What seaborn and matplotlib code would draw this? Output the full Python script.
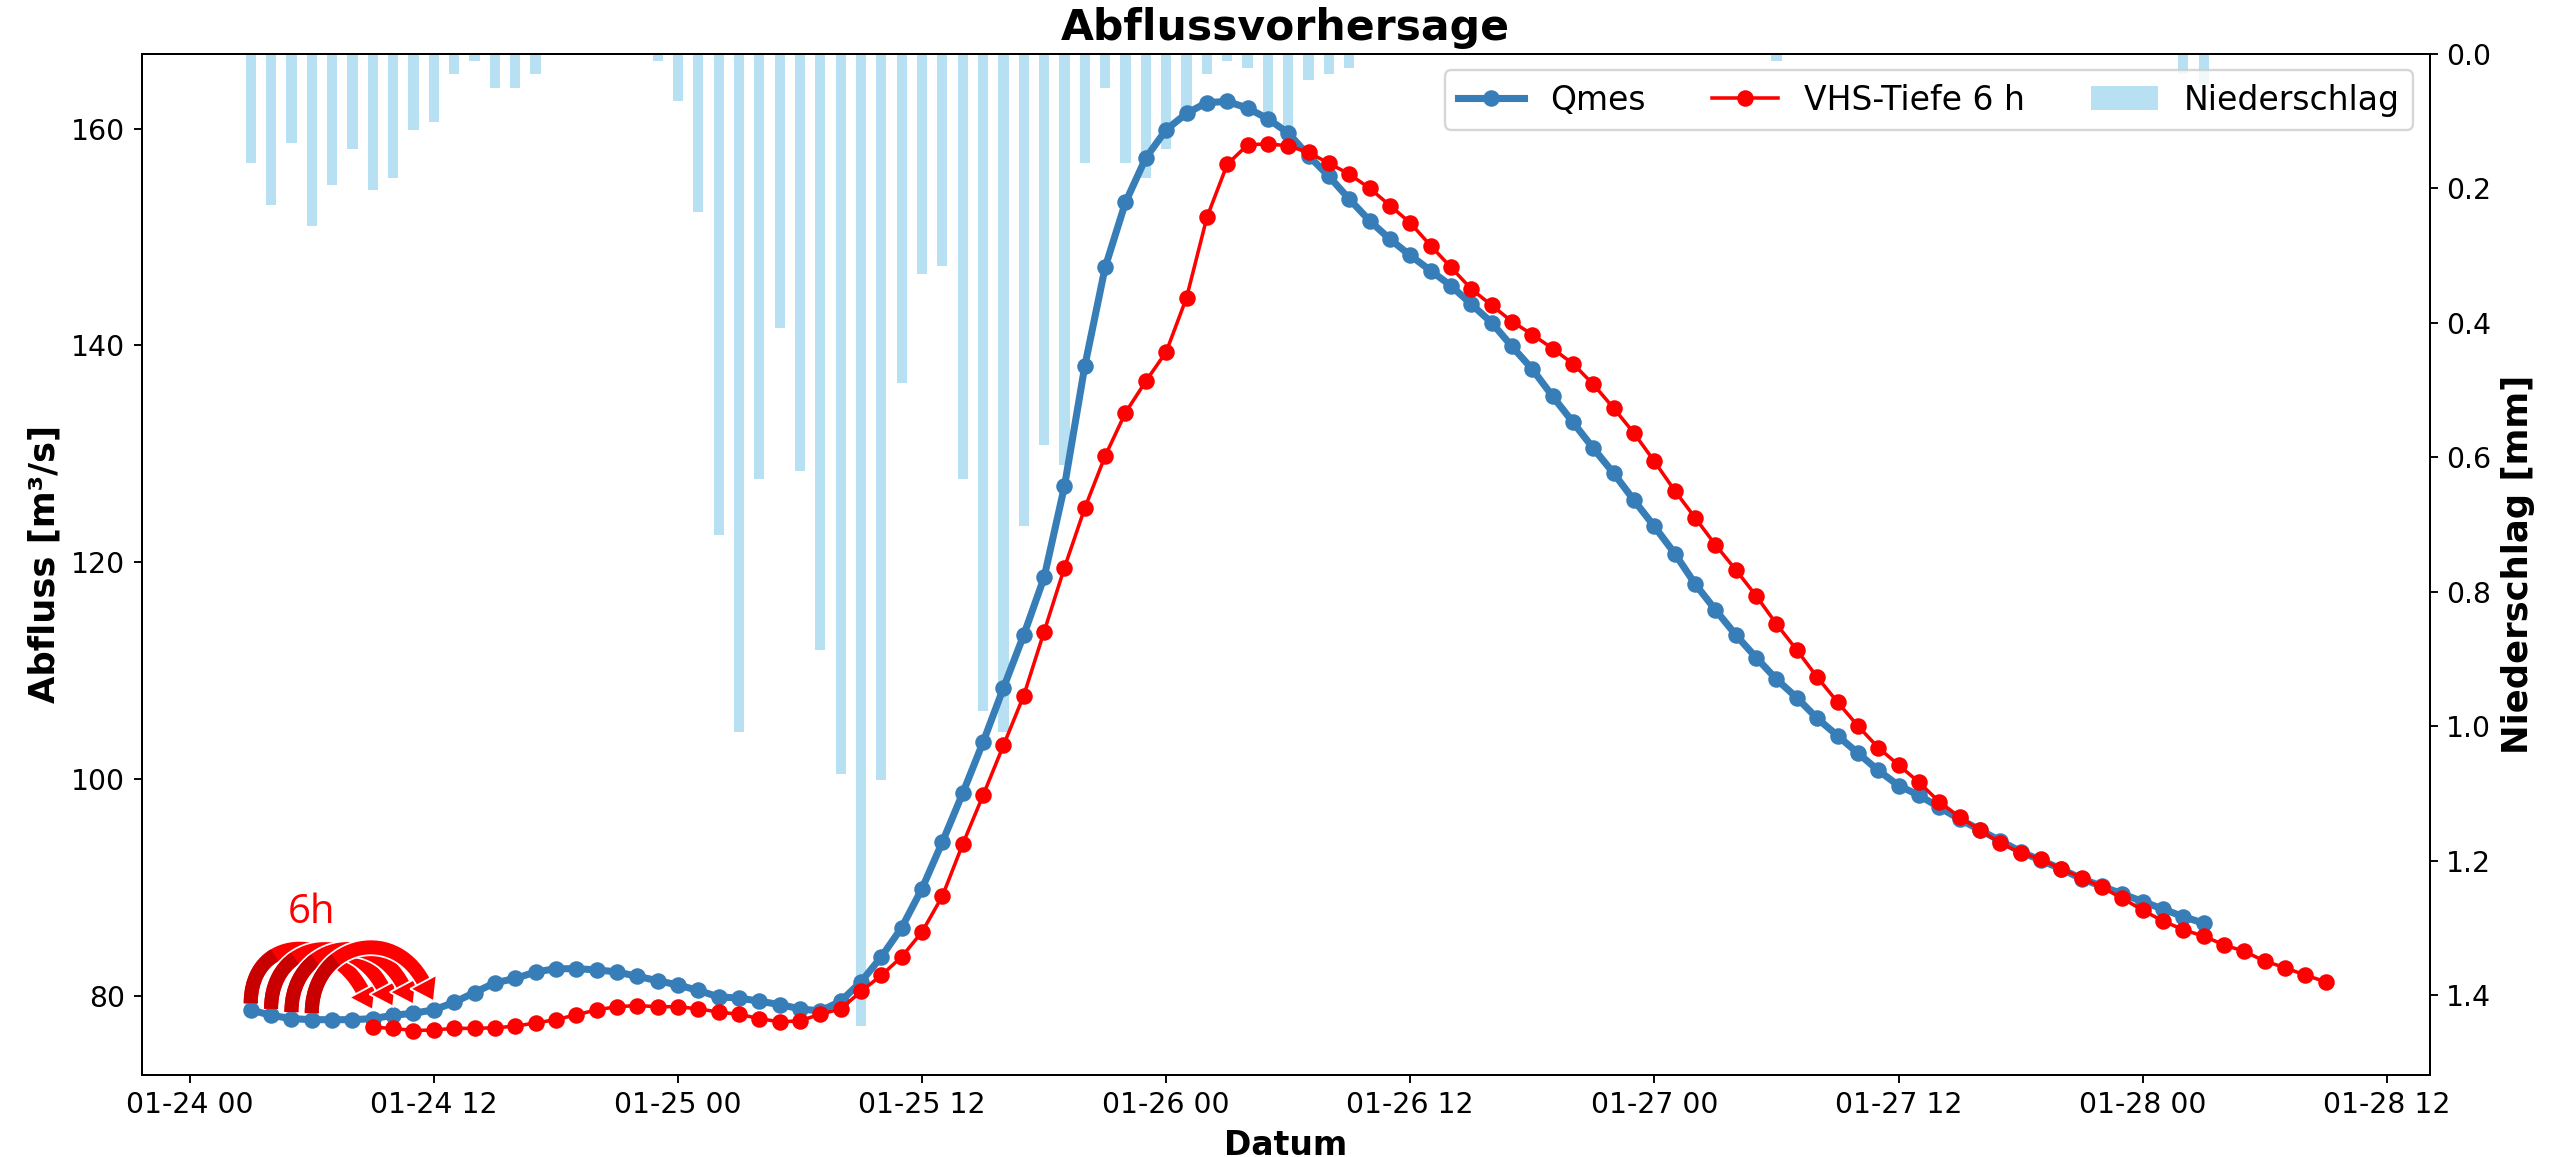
import numpy as np
import pandas as pd
import matplotlib
matplotlib.use("Agg")
import matplotlib.pyplot as plt
import matplotlib.dates as mdates
import matplotlib.patheffects as pe
from matplotlib.path import Path
from matplotlib.patches import PathPatch, Polygon
import seaborn as sns

# Daten (stündlich), Start 24.01. 03:00
start_q = pd.Timestamp("2021-01-24 03:00")
qmes = [78.7, 78.2, 77.9, 77.8, 77.8, 77.8, 77.9, 78.2, 78.4, 78.7,
        79.4, 80.3, 81.2, 81.6, 82.2, 82.5, 82.5, 82.4, 82.2, 81.8,
        81.4, 81.0, 80.5, 79.9, 79.8, 79.5, 79.2, 78.8, 78.6, 79.5,
        81.3, 83.6, 86.3, 89.9, 94.2, 98.7, 103.4, 108.4, 113.3, 118.6,
        127.0, 138.1, 147.2, 153.2, 157.3, 159.9, 161.4, 162.4, 162.5, 161.9,
        160.9, 159.6, 157.5, 155.6, 153.5, 151.5, 149.8, 148.3, 146.9, 145.5,
        143.8, 142.1, 139.9, 137.8, 135.3, 132.9, 130.5, 128.2, 125.7, 123.3,
        120.8, 118.0, 115.6, 113.3, 111.2, 109.2, 107.5, 105.6, 104.0, 102.4,
        100.8, 99.4, 98.5, 97.4, 96.3, 95.3, 94.3, 93.3, 92.5, 91.7,
        90.8, 90.1, 89.4, 88.7, 88.0, 87.3, 86.7]

# Vorhersage mit 6 h Vorlauf, Start 24.01. 09:00
start_v = pd.Timestamp("2021-01-24 09:00")
vhs = [77.1, 77.0, 76.8, 76.85, 77.0, 77.0, 77.05, 77.2, 77.5, 77.8,
       78.25, 78.7, 79.0, 79.1, 79.0, 79.0, 78.8, 78.5, 78.3, 77.9,
       77.6, 77.7, 78.3, 78.8, 80.4, 81.9, 83.6, 85.9, 89.2, 94.0,
       98.5, 103.1, 107.7, 113.6, 119.5, 125.0, 129.8, 133.8, 136.7, 139.4,
       144.4, 151.8, 156.7, 158.5, 158.6, 158.4, 157.8, 156.8, 155.8, 154.5,
       152.9, 151.3, 149.2, 147.2, 145.2, 143.7, 142.2, 141.0, 139.7, 138.3,
       136.4, 134.2, 131.9, 129.3, 126.6, 124.1, 121.6, 119.3, 116.9, 114.3,
       111.9, 109.4, 107.1, 104.9, 102.9, 101.3, 99.7, 97.9, 96.5, 95.3,
       94.1, 93.2, 92.6, 91.7, 90.9, 90.0, 89.0, 87.9, 86.9, 86.1,
       85.5, 84.7, 84.1, 83.2, 82.6, 81.9, 81.3]

# Niederschlag [mm], gleiche Zeitachse wie Qmes
niederschlag = [0.163, 0.225, 0.133, 0.256, 0.195, 0.142, 0.203, 0.185, 0.113, 0.102,
                0.030, 0.011, 0.051, 0.051, 0.030, 0.0, 0.0, 0.0, 0.0, 0.0,
                0.011, 0.070, 0.235, 0.715, 1.009, 0.632, 0.408, 0.621, 0.886, 1.071,
                1.446, 1.080, 0.489, 0.328, 0.315, 0.632, 0.977, 1.009, 0.702, 0.581,
                0.612, 0.163, 0.051, 0.163, 0.184, 0.141, 0.096, 0.030, 0.011, 0.021,
                0.090, 0.113, 0.039, 0.030, 0.021, 0.0, 0.0, 0.0, 0.0, 0.0,
                0.0, 0.0, 0.0, 0.0, 0.0, 0.0, 0.0, 0.0, 0.0, 0.0,
                0.0, 0.0, 0.0, 0.0, 0.0, 0.011, 0.0, 0.0, 0.0, 0.0,
                0.0, 0.0, 0.0, 0.0, 0.0, 0.0, 0.0, 0.0, 0.0, 0.0,
                0.0, 0.0, 0.0, 0.0, 0.0, 0.030, 0.045]

vorlauf = 6  # Stunden
n_pfeile = 4

t_q = pd.date_range(start_q, periods=len(qmes), freq="h")
t_v = pd.date_range(start_v, periods=len(vhs), freq="h")

blau = "#377eb8"
DPI = 170

fig = plt.figure(figsize=(2552 / DPI, 1157 / DPI), dpi=DPI)
ax = fig.add_subplot(111)
fig.subplots_adjust(left=0.0555, right=0.9521, bottom=0.0709, top=0.9535)
ax2 = ax.twinx()

# Niederschlag als Balken von oben
ax2.bar(t_q, niederschlag, width=0.5 / 24, color="skyblue", alpha=0.6, label="Niederschlag")
ax2.invert_yaxis()
ax2.set_ylabel("Niederschlag [mm]", fontsize=15, fontweight="bold")
ax2.tick_params(labelsize=12)

# Linien über den Balken
ax.set_zorder(ax2.get_zorder() + 1)
ax.patch.set_visible(False)

sns.lineplot(x=t_q, y=qmes, ax=ax, color=blau, linewidth=3, marker="o", markersize=7,
             markeredgecolor=blau, markeredgewidth=0, label="Qmes")
sns.lineplot(x=t_v, y=vhs, ax=ax, color="red", linewidth=1.5, marker="o", markersize=7,
             markeredgecolor="red", markeredgewidth=0, label="VHS-Tiefe 6 h")

ax.set_ylim(72.7, 166.9)
ax.xaxis.set_major_locator(mdates.HourLocator(byhour=[0, 12]))
ax.xaxis.set_major_formatter(mdates.DateFormatter("%m-%d %H"))
ax.tick_params(labelsize=12)
ax.set_xlabel("Datum", fontsize=14, fontweight="bold")
ax.set_ylabel("Abfluss [m³/s]", fontsize=15, fontweight="bold")
ax.set_title("Abflussvorhersage", fontsize=18, fontweight="bold")

ax.autoscale_view()
ax.set_xlim(ax.get_xlim())

# Legende aus beiden Achsen
h1, l1 = ax.get_legend_handles_labels()
h2, l2 = ax2.get_legend_handles_labels()
ax.legend(h1 + h2, l1 + l2, loc="upper right", ncol=3, fontsize=14)


# gebogene Pfeile (Vorlauf 6 h), Geometrie in Pixeln
def lerp(p, q, s):
    return p + s * (q - p)


x_num = mdates.date2num(t_q)
trans = ax.transData
inv = trans.inverted()
lw_px = 14
lw_pt = lw_px * 72 / DPI
hoehe = 68
kopf_l, kopf_b = 22, 30
u = np.array([np.cos(np.radians(62)), -np.sin(np.radians(62))])
n = np.array([-u[1], u[0]])
codes = [Path.MOVETO, Path.CURVE4, Path.CURVE4, Path.CURVE4]

for k in range(n_pfeile):
    a = trans.transform((x_num[k], qmes[k] + 0.6))
    b = trans.transform((x_num[k + vorlauf], qmes[k + vorlauf] + 0.8))
    e = b - kopf_l * u
    p1 = a + np.array([0, hoehe])
    p2 = e - hoehe * u
    bogen = inv.transform(np.array([a, p1, p2, e]))
    ax.add_patch(PathPatch(Path(bogen, codes), facecolor="none", edgecolor="red",
                           linewidth=lw_pt, capstyle="butt", zorder=5,
                           path_effects=[pe.Stroke(linewidth=lw_pt + 1.5, foreground="white"),
                                         pe.Normal()]))
    kopf = inv.transform(np.array([b, e + kopf_b / 2 * n, e - kopf_b / 2 * n]))
    ax.add_patch(Polygon(kopf, closed=True, facecolor="red", edgecolor="white",
                         linewidth=0.8, zorder=5))
    # dunklere Innenseite des Bogens
    s = 0.35
    q01, q12, q23 = lerp(a, p1, s), lerp(p1, p2, s), lerp(p2, e, s)
    q012, q123 = lerp(q01, q12, s), lerp(q12, q23, s)
    q0123 = lerp(q012, q123, s)
    innen = inv.transform(np.array([a, q01, q012, q0123]))
    ax.add_patch(PathPatch(Path(innen, codes), facecolor="none", edgecolor="#c80000",
                           linewidth=lw_pt, capstyle="butt", zorder=5))

ax.text(t_q[0] + pd.Timedelta(hours=vorlauf / 2), qmes[0] + 9, "6h", color="red",
        fontsize=17, ha="center", va="center", family=["Open Sans", "DejaVu Sans"])

fig.savefig("out.png", dpi=DPI)
